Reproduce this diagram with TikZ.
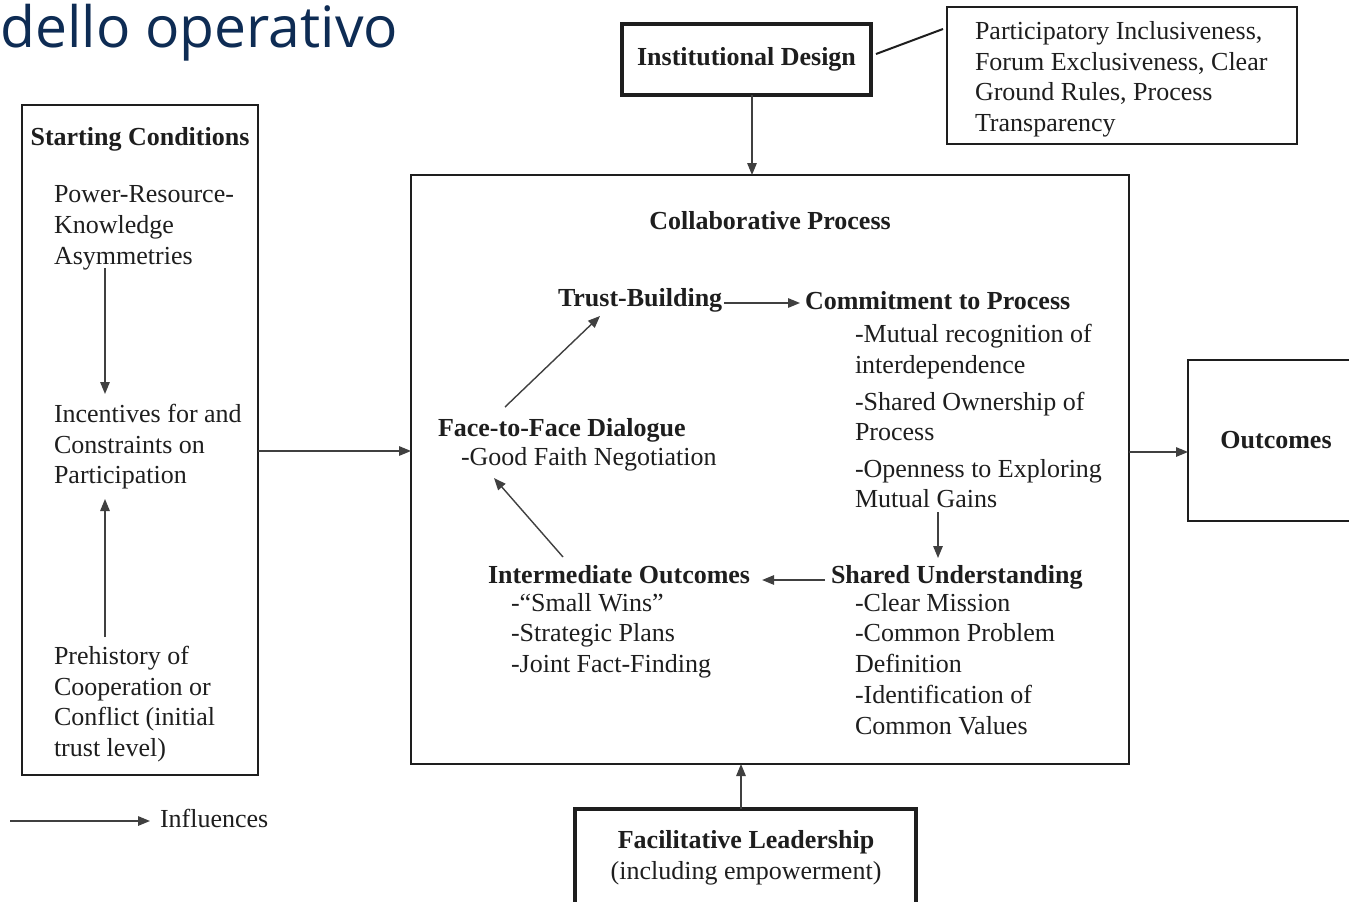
\documentclass[tikz,border=0pt]{standalone}
\usepackage{fontspec}
\setmainfont{Liberation Serif}
\newfontfamily\titlefont{Open Sans}
\usetikzlibrary{arrows.meta,calc}
\definecolor{titleblue}{RGB}{14,44,84}
\definecolor{ink}{RGB}{30,30,30}
\begin{document}
\begin{tikzpicture}[x=1pt,y=-1pt,
  every node/.style={font=\fontsize{26}{31}\selectfont, text=ink},
  box/.style={draw=ink, line width=2.5pt, outer sep=0pt, inner sep=0pt},
  thickbox/.style={box, line width=4pt},
  lbl/.style={anchor=base west, inner sep=0pt, outer sep=0pt},
  hd/.style={lbl, font=\fontsize{26}{31}\selectfont\bfseries},
  arr/.style={draw=ink!85, line width=1.4pt, -{Triangle[length=12pt,width=9.5pt]}},
  link/.style={draw=ink, line width=2pt}]
\clip (0,0) rectangle (1349,902);
\fill[white] (0,0) rectangle (1349,902);

% title
\node[lbl, font=\titlefont\fontsize{57}{60}\selectfont, text=titleblue] (title) at (0.5,47) {dello operativo};

% boxes
\node[thickbox, minimum width=249pt, minimum height=71pt, font=\fontsize{26}{31}\selectfont\bfseries] (instd) at (746.5,59.5) {Institutional Design};
\node[box, minimum width=350pt, minimum height=137pt] (partic) at (1122,75.5) {};
\node[box, minimum width=718pt, minimum height=589pt] (collab) at (770,469.5) {};
\node[box, minimum width=236pt, minimum height=670pt] (start) at (140,440) {};
\node[box, minimum width=172pt, minimum height=161pt] (outc) at (1274,440.5) {};
\node[thickbox, minimum width=341pt, minimum height=102pt] (facil) at (745.5,860) {};

% participatory text
\node[lbl] (p1) at (975,39) {Participatory Inclusiveness,};
\node[lbl] (p2) at (975,70) {Forum Exclusiveness, Clear};
\node[lbl] (p3) at (975,100) {Ground Rules, Process};
\node[lbl] (p4) at (975,131) {Transparency};

% starting conditions text
\node[hd, anchor=base] (sct) at (140,145) {Starting Conditions};
\node[lbl] (s1) at (54,202) {Power-Resource-};
\node[lbl] (s2) at (54,233) {Knowledge};
\node[lbl] (s3) at (54,264) {Asymmetries};
\node[lbl] (s4) at (54,422) {Incentives for and};
\node[lbl] (s5) at (54,453) {Constraints on};
\node[lbl] (s6) at (54,483) {Participation};
\node[lbl] (s7) at (54,664) {Prehistory of};
\node[lbl] (s8) at (54,695) {Cooperation or};
\node[lbl] (s9) at (54,725) {Conflict (initial};
\node[lbl] (s10) at (54,756) {trust level)};

% collaborative process text
\node[hd, anchor=base] (cpt) at (770,229) {Collaborative Process};
\node[hd] (trust) at (558,306) {Trust-Building};
\node[hd] (commit) at (805,309) {Commitment to Process};
\node[lbl] (c1) at (855,342) {-Mutual recognition of};
\node[lbl] (c2) at (855,373) {interdependence};
\node[lbl] (c3) at (855,410) {-Shared Ownership of};
\node[lbl] (c4) at (855,440) {Process};
\node[lbl] (c5) at (855,477) {-Openness to Exploring};
\node[lbl] (c6) at (855,507) {Mutual Gains};
\node[hd] (face) at (438,436) {Face-to-Face Dialogue};
\node[lbl] (f1) at (461,465) {-Good Faith Negotiation};
\node[hd] (inter) at (488,583) {Intermediate Outcomes};
\node[lbl] (i1) at (511,611) {-“Small Wins”};
\node[lbl] (i2) at (511,641) {-Strategic Plans};
\node[lbl] (i3) at (511,672) {-Joint Fact-Finding};
\node[hd] (shared) at (831,583) {Shared Understanding};
\node[lbl] (u1) at (855,611) {-Clear Mission};
\node[lbl] (u2) at (855,641) {-Common Problem};
\node[lbl] (u3) at (855,672) {Definition};
\node[lbl] (u4) at (855,703) {-Identification of};
\node[lbl] (u5) at (855,734) {Common Values};

% outcomes and facilitative leadership
\node[hd, anchor=base] (outt) at (1276,448) {Outcomes};
\node[hd, anchor=base] (fl1) at (746,848) {Facilitative Leadership};
\node[lbl, anchor=base] (fl2) at (746,879) {(including empowerment)};

% legend
\coordinate (legstart) at (10,821);
\node[lbl] (infl) at (160,827) {Influences};

% connectors
\draw[link] ([xshift=5pt,yshift=5.5pt]instd.east) -- ([xshift=-4pt,yshift=46.5pt]partic.west);
\draw[arr] ([xshift=5.5pt]instd.south) -- ([xshift=5.5pt]instd.south |- collab.north);
\draw[arr] ([xshift=-4.5pt]facil.north) -- ([xshift=-4.5pt]facil.north |- collab.south);
\draw[arr] ([yshift=-11pt]start.east) -- ([yshift=-11pt]start.east -| collab.west);
\draw[arr] ([yshift=17.5pt]collab.east) -- ([yshift=17.5pt]collab.east -| outc.west);
\draw[arr] ([xshift=51pt,yshift=-4pt]s3.base west) -- ([xshift=51pt,yshift=28pt]s4.base west);
\draw[arr] ([xshift=51pt,yshift=27pt]s7.base west) -- ([xshift=51pt,yshift=-16pt]s6.base west);
\draw[arr] ([xshift=2pt,yshift=3pt]trust.base east) -- ([xshift=-5pt,yshift=6pt]commit.base west);
\draw[arr] ([xshift=67pt,yshift=29pt]face.base west) -- ([xshift=42pt,yshift=-10pt]trust.base west);
\draw[arr] ([xshift=75pt,yshift=26pt]inter.base west) -- ([xshift=33pt,yshift=-13pt]f1.base west);
\draw[arr] ([xshift=83pt,yshift=-5pt]c6.base west) -- ([xshift=107pt,yshift=25pt]shared.base west);
\draw[arr] ([xshift=-6pt,yshift=3pt]shared.base west) -- ([xshift=12pt,yshift=3pt]inter.base east);
\draw[arr] (legstart) -- ([xshift=-10pt,yshift=6pt]infl.base west);
\end{tikzpicture}
\end{document}
